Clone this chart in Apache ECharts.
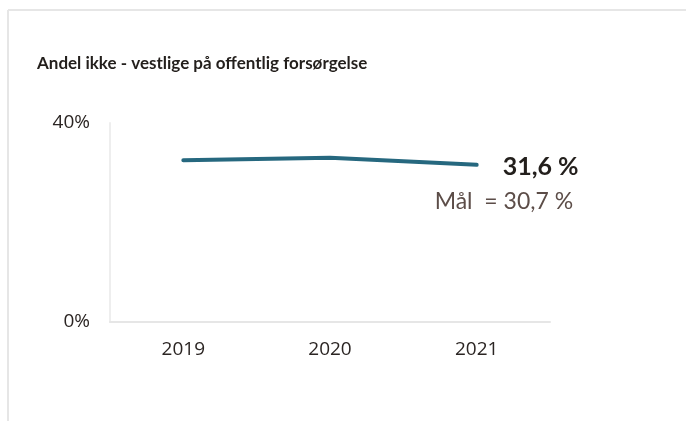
<!DOCTYPE html>
<html>
<head>
<meta charset="utf-8">
<script src="https://cdn.jsdelivr.net/npm/echarts@6/dist/echarts.min.js"></script>
<style>
  html, body { margin: 0; padding: 0; background: #fff; }
  #main { width: 686px; height: 421px; }
</style>
</head>
<body>
<div id="main"></div>
<script>
var years = ['2019', '2020', '2021'];
var andel = [32.5, 33.0, 31.6];
var maal = 30.7;
var yTicks = [0, 40];

var fmt = function (v) { return v.toFixed(1).replace('.', ',') + ' %'; };

var chart = echarts.init(document.getElementById('main'));
chart.setOption({
    backgroundColor: '#fff',
    animation: false,
    title: {
        text: 'Andel ikke - vestlige på offentlig forsørgelse',
        left: 32, top: 50,
        textStyle: { fontFamily: 'Lato', fontWeight: 'bold', fontSize: 17, color: '#231f1c' }
    },
    graphic: [
        { type: 'line', shape: { x1: 8, y1: 10, x2: 686, y2: 10 }, style: { stroke: '#e6e6e6', lineWidth: 2 } },
        { type: 'line', shape: { x1: 8, y1: 10, x2: 8, y2: 421 }, style: { stroke: '#e6e6e6', lineWidth: 2 } }
    ],
    grid: { left: 110, right: 136, top: 123, bottom: 99 },
    xAxis: {
        type: 'category',
        data: years,
        axisLine: { lineStyle: { color: '#e6e6e6', width: 2 } },
        axisTick: { show: false },
        axisLabel: { margin: 18, fontFamily: 'Open Sans', fontSize: 19, color: '#2b2523' }
    },
    yAxis: {
        type: 'value',
        min: yTicks[0], max: yTicks[1], interval: 40,
        axisLine: { show: true, lineStyle: { color: '#eeeeee', width: 2 } },
        axisTick: { show: false },
        splitLine: { show: false },
        axisLabel: { margin: 20, fontFamily: 'Open Sans', fontSize: 19, color: '#2b2523',
            formatter: function (v) { return v + '%'; } }
    },
    series: [{
        type: 'line',
        data: andel,
        symbol: 'none',
        lineStyle: { color: '#26687f', width: 4, cap: 'round' },
        endLabel: {
            show: true, distance: 26, offset: [0, 2],
            fontFamily: 'Lato', fontWeight: 'bold', fontSize: 25, color: '#231f1c',
            formatter: function (p) { return fmt(p.value); }
        },
        markPoint: {
            symbolSize: 0,
            data: [{ coord: [years.length - 1, andel[andel.length - 1]] }],
            label: {
                show: true, position: 'inside', offset: [-42, 37], align: 'left',
                fontFamily: 'Lato', fontSize: 23, color: '#5c4d48',
                formatter: function () { return 'Mål  = ' + fmt(maal); }
            }
        }
    }]
});
</script>
</body>
</html>
